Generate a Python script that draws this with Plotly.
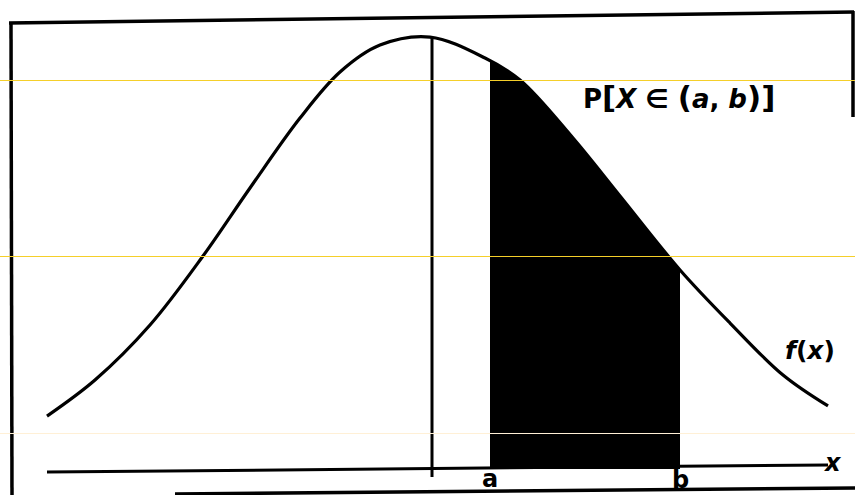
import plotly.graph_objects as go

# Density curve f(x) sampled along the horizontal axis (x in standard units)
CURVE_X = [-1.925, -1.685, -1.41, -1.145, -0.91, -0.66, -0.46, -0.26, -0.01,
           0.265, 0.44, 0.705, 0.94, 1.24, 1.49, 1.755, 1.98]
CURVE_F = [0.0489, 0.0822, 0.1330, 0.1967, 0.2595, 0.3241, 0.3666, 0.3915, 0.3989,
           0.3795, 0.3592, 0.3056, 0.2521, 0.1838, 0.1348, 0.0868, 0.0582]

# Shaded interval (a, b): upper edge follows the curve
SHADE_X = [0.29, 0.44, 0.705, 0.94, 1.24]
SHADE_F = [0.377, 0.3592, 0.3056, 0.2521, 0.1838]

A_POS, B_POS = SHADE_X[0], SHADE_X[-1]
MEAN_X = 0.0
PEAK_F = max(CURVE_F)

W, H = 855, 495
X_RANGE = [-2.16, 2.115]
Y_RANGE = [-0.024, 0.4331]


def px(v):
    return v / W


def py(v):
    return 1 - v / H


fig = go.Figure()

# shaded probability area
fig.add_trace(go.Scatter(
    x=SHADE_X, y=SHADE_F, mode="lines", line=dict(color="black", width=1, shape="spline"),
    fill="tozeroy", fillcolor="black", hoverinfo="skip", showlegend=False))

# density curve
fig.add_trace(go.Scatter(
    x=CURVE_X, y=CURVE_F, mode="lines", line=dict(color="black", width=3.2, shape="spline"),
    hoverinfo="skip", showlegend=False))

# vertical line at the mean
fig.add_trace(go.Scatter(
    x=[MEAN_X, MEAN_X], y=[PEAK_F, -0.0074], mode="lines",
    line=dict(color="black", width=3), hoverinfo="skip", showlegend=False))

shapes = []
blk = dict(color="black", width=3.5)
# outer frame (left, top, right stub, bottom)
shapes.append(dict(type="line", xref="paper", yref="paper", x0=px(11), y0=py(23), x1=px(12), y1=py(495), line=blk))
shapes.append(dict(type="line", xref="paper", yref="paper", x0=px(9), y0=py(23), x1=px(854), y1=py(12), line=blk))
shapes.append(dict(type="line", xref="paper", yref="paper", x0=px(853), y0=py(11), x1=px(853), y1=py(117), line=blk))
shapes.append(dict(type="line", xref="paper", yref="paper", x0=px(175), y0=py(494), x1=px(855), y1=py(488), line=blk))
# horizontal x axis
shapes.append(dict(type="line", xref="paper", yref="paper", x0=px(47), y0=py(472), x1=px(828), y1=py(465),
                   line=dict(color="black", width=3)))
# faint yellow ruling lines across the page
for yy, col in [(80.5, "#F5CF2A"), (256.5, "#F5CF2A"), (433.5, "#FFF0D6")]:
    shapes.append(dict(type="line", xref="paper", yref="paper", x0=0, y0=py(yy), x1=1, y1=py(yy),
                       line=dict(color=col, width=1)))

annotations = [
    dict(x=px(581), y=py(97), xref="paper", yref="paper", xanchor="left", yanchor="middle",
         text="<b>P<span style='font-size:31px'>[</span><i>X</i> ∈ <span style='font-size:31px'>(</span>"
              "<i>a</i>, <i>b</i><span style='font-size:31px'>)]</span></b>",
         showarrow=False, font=dict(family="DejaVu Sans", size=26, color="black")),
    dict(x=px(810), y=py(350), xref="paper", yref="paper", xanchor="center", yanchor="middle",
         text="<b><i>f</i>(<i>x</i>)</b>", showarrow=False,
         font=dict(family="DejaVu Sans", size=25, color="black")),
    dict(x=A_POS, y=py(479), xref="x", yref="paper", xanchor="center", yanchor="middle",
         text="<b>a</b>", showarrow=False, font=dict(family="DejaVu Sans", size=24, color="black")),
    dict(x=B_POS, y=py(480), xref="x", yref="paper", xanchor="center", yanchor="middle",
         text="<b>b</b>", showarrow=False, font=dict(family="DejaVu Sans", size=24, color="black")),
    dict(x=px(833), y=py(463), xref="paper", yref="paper", xanchor="center", yanchor="middle",
         text="<b><i>x</i></b>", showarrow=False, font=dict(family="DejaVu Sans", size=24, color="black")),
]

fig.update_layout(
    width=W, height=H, margin=dict(l=0, r=0, t=0, b=0),
    paper_bgcolor="white", plot_bgcolor="white",
    xaxis=dict(range=X_RANGE, visible=False, fixedrange=True),
    yaxis=dict(range=Y_RANGE, visible=False, fixedrange=True),
    shapes=shapes, annotations=annotations, showlegend=False,
)

fig.write_html("out.html")
